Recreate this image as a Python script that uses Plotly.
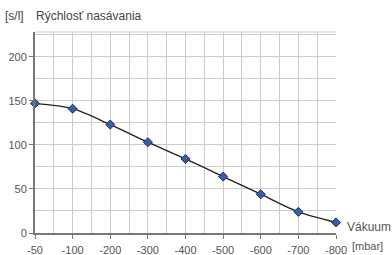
import plotly.graph_objects as go

categories = ["-50", "-100", "-200", "-300", "-400", "-500", "-600", "-700", "-800"]
speed = [147, 141, 123, 103, 84, 64, 44, 24, 12]
y_ticks = [0, 50, 100, 150, 200]

xpos = list(range(len(categories)))

fig = go.Figure()
fig.add_trace(go.Scatter(
    x=xpos, y=speed, mode="lines+markers",
    line=dict(color="#222222", width=1.4, shape="spline", smoothing=0.8),
    marker=dict(symbol="diamond", size=7, color="#3b5ea8", line=dict(color="#1e2f5a", width=1)),
    cliponaxis=False, hoverinfo="skip",
))

font = "Liberation Sans, Arial, Helvetica, sans-serif"
W = 301.0
H = 201.0
fig.update_layout(
    width=392, height=255,
    margin=dict(l=35, r=56, t=32, b=22, autoexpand=False),
    paper_bgcolor="white", plot_bgcolor="white",
    showlegend=False,
    font=dict(family=font, size=11, color="#555555"),
    xaxis=dict(
        range=[0, 8], tickvals=xpos, ticktext=categories, automargin=False,
        showgrid=True, gridcolor="#cccccc", gridwidth=1,
        minor=dict(dtick=0.5, tick0=0, showgrid=True, gridcolor="#cccccc", gridwidth=1),
        showline=True, linecolor="#777777", linewidth=2,
        ticks="outside", ticklen=4, tickcolor="#777777", tickwidth=1,
        ticklabelstandoff=2,
        zeroline=False, tickfont=dict(size=11, color="#555555"),
    ),
    yaxis=dict(
        range=[0, 228], tickvals=y_ticks, automargin=False,
        showgrid=True, gridcolor="#cccccc", gridwidth=1,
        minor=dict(dtick=25, tick0=0, showgrid=True, gridcolor="#cccccc", gridwidth=1),
        showline=True, linecolor="#777777", linewidth=2,
        ticks="outside", ticklen=4, tickcolor="#777777", tickwidth=1,
        zeroline=False, tickfont=dict(size=11, color="#555555"),
    ),
    shapes=[dict(type="line", xref="paper", yref="paper", x0=0, x1=1, y0=1, y1=1,
                 line=dict(color="#cccccc", width=1))],
    annotations=[
        dict(text="[s/l]", xref="paper", yref="paper",
             x=-32/W, y=1 + 16/H, xanchor="left", yanchor="middle", showarrow=False,
             font=dict(size=12, color="#444444")),
        dict(text="Rýchlosť nasávania", xref="paper", yref="paper",
             x=-1/W, y=1 + 16/H, xanchor="left", yanchor="middle", showarrow=False,
             font=dict(size=12, color="#444444")),
        dict(text="Vákuum", xref="paper", yref="paper", x=1 + 9/W, y=6/H,
             xanchor="left", yanchor="middle", showarrow=False,
             font=dict(size=12, color="#555555")),
        dict(text="[mbar]", xref="paper", yref="paper", x=1 + 14/W, y=-13/H,
             xanchor="left", yanchor="middle", showarrow=False,
             font=dict(size=11, color="#555555")),
    ],
)

fig.write_html("out.html", config={"displayModeBar": False},
               post_script="document.body.style.margin='0';")
